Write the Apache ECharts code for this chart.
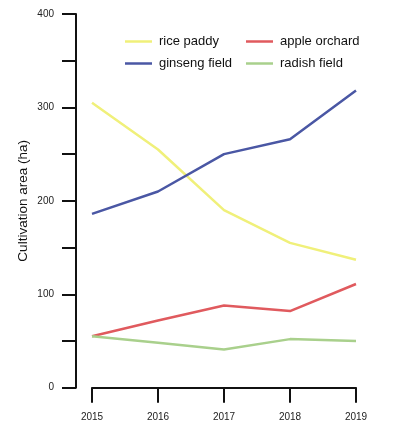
<!DOCTYPE html>
<html>
<head>
<meta charset="utf-8">
<script src="https://cdn.jsdelivr.net/npm/echarts@6/dist/echarts.min.js"></script>
<style>
  html, body { margin: 0; padding: 0; background: #fff; }
  #main { width: 399px; height: 435px; }
</style>
</head>
<body>
<div id="main"></div>
<script>
// 年份 / 数据
const years = ["2015", "2016", "2017", "2018", "2019"];
const ricePaddy = [305, 255, 190, 155, 137];
const ginsengField = [186, 210, 250, 266, 318];
const appleOrchard = [55, 72, 88, 82, 111];
const radishField = [55, 48, 41, 52, 50];
const yTickLabels = [0, 100, 200, 300, 400];

const font = "Liberation Sans, Arial, sans-serif";

function lineSeries(name, data, color) {
  return {
    name: name,
    type: "line",
    data: data,
    showSymbol: false,
    symbol: "none",
    lineStyle: { color: color, width: 2.5 },
    itemStyle: { color: color },
    silent: true,
  };
}

const legendStyle = {
  orient: "vertical",
  top: 30,
  itemWidth: 27,
  itemHeight: 2.5,
  itemGap: 9,
  icon: "rect",
  textStyle: { fontFamily: font, fontSize: 13, color: "#111", padding: [0, 0, 0, 2] },
};

const chart = echarts.init(document.getElementById("main"));
chart.setOption({
  animation: false,
  backgroundColor: "#fff",
  grid: { left: 92, right: 43, top: 14, bottom: 47.3 },
  legend: [
    Object.assign({ left: 120, data: ["rice paddy", "ginseng field"] }, legendStyle),
    Object.assign({ left: 241, data: ["apple orchard", "radish field"] }, legendStyle),
  ],
  xAxis: {
    type: "category",
    data: years,
    boundaryGap: false,
    axisLine: { lineStyle: { color: "#111", width: 2 } },
    axisTick: { length: 15, lineStyle: { color: "#111", width: 2 } },
    axisLabel: { margin: 25, fontFamily: font, fontSize: 10, color: "#222" },
    splitLine: { show: false },
  },
  yAxis: {
    type: "value",
    min: 0,
    max: 400,
    interval: 50,
    offset: 16,
    name: "Cultivation area (ha)",
    nameLocation: "middle",
    nameGap: 46,
    nameMoveOverlap: false,
    nameTextStyle: { fontFamily: font, fontSize: 13.5, color: "#111" },
    axisLine: { show: true, lineStyle: { color: "#111", width: 2 } },
    axisTick: { show: true, length: 14, lineStyle: { color: "#111", width: 2 } },
    axisLabel: {
      margin: 22,
      fontFamily: font,
      fontSize: 10,
      color: "#222",
      formatter: (v) => (yTickLabels.includes(v) ? String(v) : ""),
    },
    splitLine: { show: false },
  },
  series: [
    lineSeries("rice paddy", ricePaddy, "#f0f07a"),
    lineSeries("ginseng field", ginsengField, "#4a57a4"),
    lineSeries("apple orchard", appleOrchard, "#e05a5e"),
    lineSeries("radish field", radishField, "#a9d08c"),
  ],
});
</script>
</body>
</html>
